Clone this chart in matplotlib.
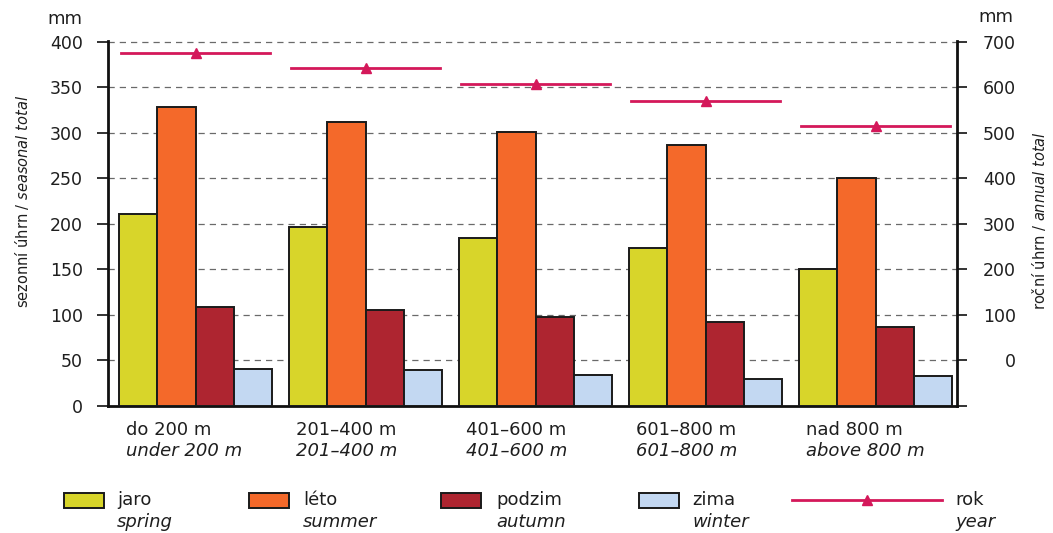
import matplotlib
matplotlib.use("Agg")
import matplotlib.pyplot as plt
import matplotlib.transforms as mtransforms
from matplotlib.patches import Rectangle
import numpy as np

# ---- data ----
groups_cz = ["do 200 m", "201–400 m", "401–600 m", "601–800 m", "nad 800 m"]
groups_en = ["under 200 m", "201–400 m", "401–600 m", "601–800 m", "above 800 m"]
spring = [211, 197, 185, 174, 150]
summer = [328, 312, 301, 287, 251]
autumn = [109, 105, 98, 92, 87]
winter = [41, 39, 34, 30, 33]
year = [676, 643, 607, 570, 515]
season_cz = ["jaro", "léto", "podzim", "zima"]
season_en = ["spring", "summer", "autumn", "winter"]
left_ticks = [0, 50, 100, 150, 200, 250, 300, 350, 400]
right_ticks = [0, 100, 200, 300, 400, 500, 600, 700]

colors = ["#d8d52a", "#f4692a", "#ae2530", "#c3d8f2"]
line_color = "#d4185a"
text_color = "#1e1e1e"

plt.rcParams['font.family'] = ['DejaVu Sans']
plt.rcParams['mathtext.fontset'] = 'dejavusans'

fig = plt.figure(figsize=(10.53, 5.33), dpi=100)
fig.patch.set_facecolor("white")

ax = fig.add_axes([0.1026, 0.2383, 0.8062, 0.6848])
ax2 = ax.twinx()

x = np.arange(len(groups_cz))
w = 0.225
series = [spring, summer, autumn, winter]
for j, vals in enumerate(series):
    ax.bar(x + (j - 1.5) * w, vals, width=w, color=colors[j],
           edgecolor="#1a1a1a", linewidth=1.4, zorder=3)

ax.set_xlim(-0.515, 4.479)
ax.set_ylim(0, 401)
ax.set_yticks(left_ticks)
ax.set_xticks([])
for t in left_ticks[1:]:
    ax.axhline(t, color="#6a6a6a", lw=0.9, ls=(0, (5, 4)), zorder=1)

# twin axis: right = 2*(left - 50)
ax2.set_ylim(2 * (0 - 50), 2 * (401 - 50))
ax2.set_yticks([-100] + right_ticks)
ax2.set_yticklabels([""] + [str(v) for v in right_ticks])
for i, v in enumerate(year):
    ax2.plot([i - 0.44, i, i + 0.44], [v, v, v], color=line_color, lw=2,
             marker="^", markevery=[1], markersize=7, zorder=4)

for a in (ax, ax2):
    a.spines["top"].set_visible(False)
    for s in ("left", "right", "bottom"):
        a.spines[s].set_linewidth(2.0)
        a.spines[s].set_color("#111111")
ax.spines["right"].set_visible(False)
ax2.spines["left"].set_visible(False)
ax2.spines["bottom"].set_visible(False)

ax.tick_params(axis="y", length=8, width=1.2, pad=10, labelsize=12.5,
               labelcolor=text_color, color="#111111")
ax2.tick_params(axis="y", length=7.5, width=1.2, pad=35, labelsize=12.5,
                labelcolor=text_color, color="#111111")
for lab in ax2.get_yticklabels():
    lab.set_horizontalalignment("right")

# x-axis labels (two lines, second italic)
trans = mtransforms.blended_transform_factory(ax.transData, fig.transFigure)
for i in range(len(groups_cz)):
    x0 = i - 2 * w + 0.04
    ax.text(x0, 1 - 430 / 533, groups_cz[i], transform=trans, ha="left",
            va="center", fontsize=13, color=text_color)
    ax.text(x0, 1 - 451 / 533, groups_en[i], transform=trans, ha="left",
            va="center", fontsize=13, color=text_color, style="italic")

# axis titles
fig.text(65 / 1053, 1 - 19 / 533, "mm", ha="center", va="center",
         fontsize=13, color=text_color)
fig.text(996 / 1053, 1 - 17 / 533, "mm", ha="center", va="center",
         fontsize=13, color=text_color)
fig.text(22 / 1053, 1 - 201 / 533, r"sezonní úhrn / $\it{seasonal\ total}$",
         rotation=90, ha="center", va="center", fontsize=10.5, color=text_color)
fig.text(1039 / 1053, 1 - 221 / 533, r"roční úhrn / $\it{annual\ total}$",
         rotation=90, ha="center", va="center", fontsize=10.5, color=text_color)

# legend (manual)
lax = fig.add_axes([0, 0, 1, 1])
lax.set_xlim(0, 1053)
lax.set_ylim(533, 0)
lax.axis("off")
lax.patch.set_visible(False)
box_x = [64, 249, 441, 639]
text_x = [117, 303, 496, 692]
for j in range(4):
    lax.add_patch(Rectangle((box_x[j], 493), 40, 15, facecolor=colors[j],
                            edgecolor="#1a1a1a", linewidth=1.4))
    lax.text(text_x[j], 500, season_cz[j], ha="left", va="center",
             fontsize=13, color=text_color)
    lax.text(text_x[j], 522, season_en[j], ha="left", va="center",
             fontsize=13, color=text_color, style="italic")
lax.plot([792, 867, 942], [500, 500, 500], color=line_color, lw=2,
         marker="^", markevery=[1], markersize=7)
lax.text(955, 500, "rok", ha="left", va="center", fontsize=13, color=text_color)
lax.text(955, 522, "year", ha="left", va="center", fontsize=13,
         color=text_color, style="italic")

fig.savefig("out.png", dpi=100, facecolor="white")
